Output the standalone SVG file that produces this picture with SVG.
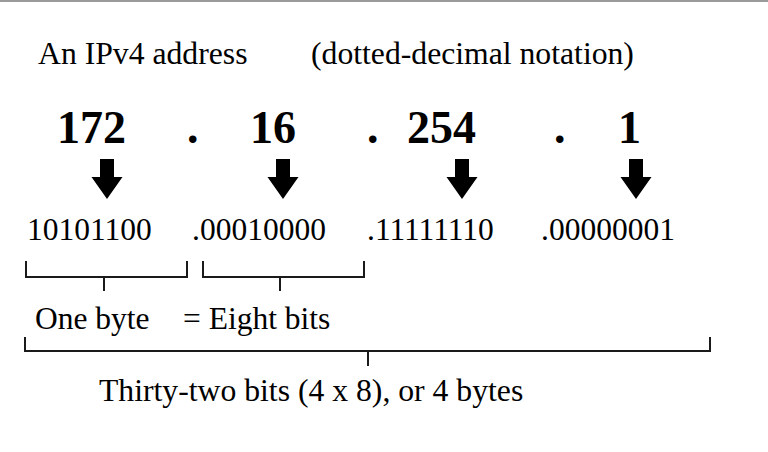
<svg xmlns="http://www.w3.org/2000/svg" xmlns:xlink="http://www.w3.org/1999/xlink" width="768" height="452" viewBox="0 0 768 452">
  <style>
    text { font-family: "Liberation Serif", "Times New Roman", serif; fill: #000; }
    .t { font-size: 31.7px; }
    .big { font-size: 46px; font-weight: bold; }
    .bin { font-size: 31.5px; }
    .br { fill: none; stroke: #1a1a1a; stroke-width: 2; }
  </style>
  <defs>
    <path id="arr" d="M-7 159 H7 V177 H15.5 L0 199 L-15.5 177 H-7 Z" fill="#000"/>
  </defs>
  <rect x="0" y="0" width="768" height="452" fill="#fff"/>
  <rect x="0" y="0" width="768" height="2" fill="#9a9a9a"/>

  <g id="title">
    <text class="t" x="38" y="64">An IPv4 address</text>
    <text class="t" x="311" y="64">(dotted-decimal notation)</text>
  </g>

  <g id="decimal">
    <text class="big" x="57" y="143">172</text>
    <text class="big" x="187" y="143">.</text>
    <text class="big" x="250" y="143">16</text>
    <text class="big" x="367" y="143">.</text>
    <text class="big" x="407" y="143">254</text>
    <text class="big" x="554" y="143">.</text>
    <text class="big" x="618" y="143">1</text>
  </g>

  <g id="arrows">
    <use xlink:href="#arr" x="107"/>
    <use xlink:href="#arr" x="283"/>
    <use xlink:href="#arr" x="462"/>
    <use xlink:href="#arr" x="636"/>
  </g>

  <g id="binary">
    <text class="bin" x="27" y="240">10101100</text>
    <text class="bin" x="192" y="240">.00010000</text>
    <text class="bin" x="367" y="240">.11111110</text>
    <text class="bin" x="541" y="240">.00000001</text>
  </g>

  <g id="connectors">
    <path class="br" d="M26 261 V277 H187 V261 M104 277 V291"/>
    <path class="br" d="M203 261 V277 H364 V261 M280 277 V291"/>
    <path class="br" d="M25 337 V351 H710 V337 M368 351 V366"/>
  </g>

  <g id="byte-label">
    <text class="bin" x="35" y="329">One byte</text>
    <text class="bin" x="183" y="329">= Eight bits</text>
  </g>

  <g id="total-label">
    <text class="t" x="99" y="401">Thirty-two bits (4 x 8), or 4 bytes</text>
  </g>
</svg>
